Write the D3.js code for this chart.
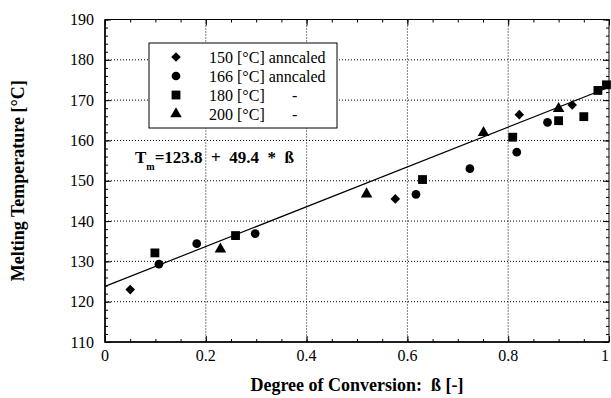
<!DOCTYPE html>
<html>
<head>
<meta charset="utf-8">
<script src="https://cdn.jsdelivr.net/npm/d3@7"></script>
<style>
  body { margin: 0; background: #fff; }
  svg { display: block; }
  svg text { font-family: 'Liberation Serif', Tinos, 'Times New Roman', Times, 'Nimbus Roman', 'Noto Serif', FreeSerif, 'DejaVu Serif', serif; }
</style>
</head>
<body>
<div id="chart"></div>
<script>
// data
var xTicks = [0, 0.2, 0.4, 0.6, 0.8, 1];
var xTickLabels = ['0', '0.2', '0.4', '0.6', '0.8', '1'];
var yTicks = [110, 120, 130, 140, 150, 160, 170, 180, 190];

var seriesNames = ['150 [°C] anncaled', '166 [°C] anncaled', '180 [°C]', '200 [°C]'];
var seriesDash = ['', '', '-', '-'];

var beta150 = [0.05, 0.576, 0.822, 0.927];
var temp150 = [123.0, 145.5, 166.4, 168.8];
var beta166 = [0.107, 0.182, 0.298, 0.617, 0.724, 0.817, 0.878];
var temp166 = [129.3, 134.4, 136.9, 146.6, 153.0, 157.1, 164.5];
var beta180 = [0.099, 0.259, 0.630, 0.809, 0.900, 0.950, 0.978, 0.995];
var temp180 = [132.1, 136.4, 150.3, 160.8, 164.9, 165.9, 172.4, 173.8];
var beta200 = [0.229, 0.519, 0.751, 0.900];
var temp200 = [133.0, 146.7, 161.9, 167.9];

// fit: Tm = 123.8 + 49.4 * beta
var fitIntercept = 123.8;
var fitSlope = 49.4;

var width = 611, height = 398;
var margin = {top: 19.5, right: 2, bottom: 56, left: 105};
var w = width - margin.left - margin.right;
var h = height - margin.top - margin.bottom;

var svg = d3.select('#chart').append('svg')
    .attr('width', width)
    .attr('height', height);

var g = svg.append('g')
    .attr('transform', 'translate(' + margin.left + ',' + margin.top + ')');

var x = d3.scaleLinear().domain([0, 1]).range([0, w]);
var y = d3.scaleLinear().domain([110, 190]).range([h, 0]);

// dotted grid
g.append('g').selectAll('line')
    .data(xTicks.slice(1, -1))
    .enter().append('line')
    .attr('x1', function(d) { return x(d); })
    .attr('x2', function(d) { return x(d); })
    .attr('y1', 0).attr('y2', h)
    .attr('stroke', '#000')
    .attr('stroke-width', 1)
    .attr('stroke-dasharray', '1,2');

g.append('g').selectAll('line')
    .data(yTicks.slice(1, -1))
    .enter().append('line')
    .attr('y1', function(d) { return y(d); })
    .attr('y2', function(d) { return y(d); })
    .attr('x1', 0).attr('x2', w)
    .attr('stroke', '#000')
    .attr('stroke-width', 1)
    .attr('stroke-dasharray', '1,2');

// inward ticks on all four sides, minor and major
var xMinor = d3.range(0, 1.0001, 0.05);
var yMinor = d3.range(110, 190.001, 2);

function tickRow(axis, vals, len, shift) {
    var s = g.append('g');
    if (shift) s.attr('transform', shift);
    s.call(axis.tickValues(vals).tickSize(-len).tickFormat(''));
    s.select('.domain').remove();
    s.selectAll('.tick line').attr('stroke', '#000').attr('stroke-width', 1);
}

tickRow(d3.axisBottom(x), xMinor, 3, 'translate(0,' + h + ')');
tickRow(d3.axisBottom(x), xTicks, 6, 'translate(0,' + h + ')');
tickRow(d3.axisTop(x), xMinor, 3);
tickRow(d3.axisTop(x), xTicks, 6);
tickRow(d3.axisLeft(y), yMinor, 3);
tickRow(d3.axisLeft(y), yTicks, 6);
tickRow(d3.axisRight(y), yMinor, 3, 'translate(' + w + ',0)');
tickRow(d3.axisRight(y), yTicks, 6, 'translate(' + w + ',0)');

// frame (left and bottom heavier)
g.append('rect')
    .attr('width', w).attr('height', h)
    .attr('fill', 'none')
    .attr('stroke', '#000')
    .attr('stroke-width', 1);
g.append('path')
    .attr('d', 'M0,0V' + h + 'H' + w)
    .attr('fill', 'none')
    .attr('stroke', '#000')
    .attr('stroke-width', 1.5);

// tick labels
g.append('g').selectAll('text')
    .data(xTicks)
    .enter().append('text')
    .attr('x', function(d) { return x(d); })
    .attr('y', h + 19)
    .attr('text-anchor', function(d, i) { return i === xTicks.length - 1 ? 'end' : 'middle'; })
    .style('font-size', '16px')
    .text(function(d, i) { return xTickLabels[i]; });

g.append('g').selectAll('text')
    .data(yTicks)
    .enter().append('text')
    .attr('x', -11)
    .attr('y', function(d) { return y(d); })
    .attr('dy', '0.35em')
    .attr('text-anchor', 'end')
    .style('font-size', '16px')
    .text(function(d) { return d; });

// fit line
var fitLine = d3.line()
    .x(function(d) { return x(d); })
    .y(function(d) { return y(fitIntercept + fitSlope * d); });
g.append('path')
    .datum([0, 1])
    .attr('d', fitLine)
    .attr('fill', 'none')
    .attr('stroke', '#000')
    .attr('stroke-width', 1.2);

// markers
var shapes = [
    d3.symbol().type(d3.symbolSquare).size(46),
    d3.symbol().type(d3.symbolCircle).size(60),
    d3.symbol().type(d3.symbolSquare).size(78),
    d3.symbol().type(d3.symbolTriangle).size(58)
];
var rotate = [45, 0, 0, 0];
var betas = [beta150, beta166, beta180, beta200];
var temps = [temp150, temp166, temp180, temp200];

betas.forEach(function(bs, k) {
    g.append('g').selectAll('path')
        .data(bs)
        .enter().append('path')
        .attr('d', shapes[k])
        .attr('transform', function(d, i) {
            return 'translate(' + x(d) + ',' + y(temps[k][i]) + ') rotate(' + rotate[k] + ')';
        })
        .attr('fill', '#000');
});

// legend
var legend = svg.append('g').attr('transform', 'translate(149,43)');
legend.append('rect')
    .attr('width', 188).attr('height', 85)
    .attr('fill', '#fff')
    .attr('stroke', '#000')
    .attr('stroke-width', 1);
seriesNames.forEach(function(name, k) {
    var ry = 14 + k * 19;
    legend.append('path')
        .attr('d', shapes[k])
        .attr('transform', 'translate(27,' + ry + ') rotate(' + rotate[k] + ')')
        .attr('fill', '#000');
    legend.append('text')
        .attr('x', 60).attr('y', ry)
        .attr('dy', '0.35em')
        .style('font-size', '16px')
        .text(name);
    if (seriesDash[k]) {
        legend.append('text')
            .attr('x', 143).attr('y', ry)
            .attr('dy', '0.35em')
            .style('font-size', '16px')
            .text(seriesDash[k]);
    }
});

// equation
var eq = svg.append('text')
    .attr('x', 135).attr('y', 163)
    .style('font-size', '17px')
    .style('font-weight', 'bold');
eq.append('tspan').text('T');
eq.append('tspan').attr('dy', 7).style('font-size', '10px').text('m');
eq.append('tspan').attr('dy', -7).attr('xml:space', 'preserve').text('=123.8  +  49.4  *  ß');

// axis titles
svg.append('text')
    .attr('x', margin.left + w / 2)
    .attr('y', 391)
    .attr('text-anchor', 'middle')
    .style('font-size', '18px')
    .style('font-weight', 'bold')
    .attr('xml:space', 'preserve')
    .text('Degree of Conversion:  ß [-]');

svg.append('text')
    .attr('transform', 'translate(24,' + (margin.top + h / 2) + ') rotate(-90)')
    .attr('text-anchor', 'middle')
    .style('font-size', '18px')
    .style('font-weight', 'bold')
    .text('Melting Temperature [°C]');
</script>
</body>
</html>
